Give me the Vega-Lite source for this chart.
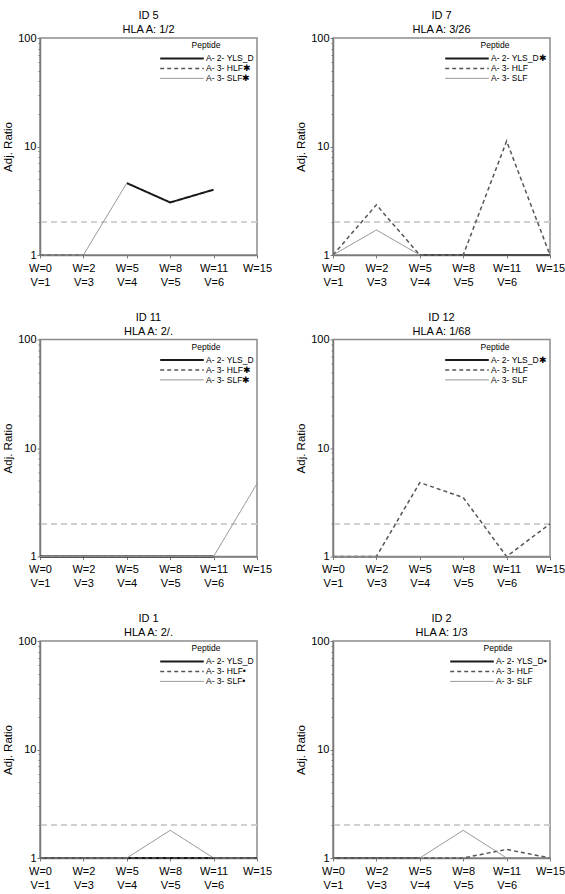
{
  "$schema": "https://vega.github.io/schema/vega-lite/v6.json",
  "background": "white",
  "padding": {"left": 1, "top": 9, "right": 0, "bottom": 2},
  "config": {
    "font": "Liberation Sans",
    "view": {"stroke": "#8c8c8c", "strokeWidth": 1.5},
    "axis": {"labelFont": "Liberation Sans", "titleFont": "Liberation Sans", "labelFontSize": 11, "titleFontSize": 11.5, "titleFontWeight": "normal", "labelColor": "#000", "titleColor": "#000", "domainColor": "#7a7a7a", "domainWidth": 1.5, "tickColor": "#7a7a7a", "grid": false},
    "legend": {"orient": "top-right", "offset": 3, "padding": 0, "symbolType": "stroke", "symbolSize": 1900, "clipHeight": 9.8, "labelFont": "Liberation Sans", "titleFont": "Liberation Sans", "labelFontSize": 8.5, "titleFontSize": 8.5, "titleFontWeight": "normal", "titleAnchor": "middle", "labelOffset": 1, "rowPadding": 0, "titlePadding": 4, "labelColor": "#000", "titleColor": "#000"},
    "title": {"font": "Liberation Sans", "fontSize": 11, "fontWeight": "normal", "lineHeight": 14, "offset": -3, "color": "#000"}
  },
  "data": {"values": [
    {"id": "ID 5", "visit": "W=5|V=4", "peptide": "A- 2- YLS_D", "ratio": 4.6},
    {"id": "ID 5", "visit": "W=8|V=5", "peptide": "A- 2- YLS_D", "ratio": 3.05},
    {"id": "ID 5", "visit": "W=11|V=6", "peptide": "A- 2- YLS_D", "ratio": 4.0},
    {"id": "ID 5", "visit": "W=0|V=1", "peptide": "A- 3- HLF", "ratio": 1},
    {"id": "ID 5", "visit": "W=2|V=3", "peptide": "A- 3- HLF", "ratio": 1},
    {"id": "ID 5", "visit": "W=0|V=1", "peptide": "A- 3- SLF", "ratio": 1},
    {"id": "ID 5", "visit": "W=2|V=3", "peptide": "A- 3- SLF", "ratio": 1},
    {"id": "ID 5", "visit": "W=5|V=4", "peptide": "A- 3- SLF", "ratio": 4.6},

    {"id": "ID 7", "visit": "W=5|V=4", "peptide": "A- 2- YLS_D", "ratio": 1},
    {"id": "ID 7", "visit": "W=8|V=5", "peptide": "A- 2- YLS_D", "ratio": 1},
    {"id": "ID 7", "visit": "W=11|V=6", "peptide": "A- 2- YLS_D", "ratio": 1},
    {"id": "ID 7", "visit": "W=15", "peptide": "A- 2- YLS_D", "ratio": 1},
    {"id": "ID 7", "visit": "W=0|V=1", "peptide": "A- 3- HLF", "ratio": 1},
    {"id": "ID 7", "visit": "W=2|V=3", "peptide": "A- 3- HLF", "ratio": 2.9},
    {"id": "ID 7", "visit": "W=5|V=4", "peptide": "A- 3- HLF", "ratio": 1},
    {"id": "ID 7", "visit": "W=8|V=5", "peptide": "A- 3- HLF", "ratio": 1},
    {"id": "ID 7", "visit": "W=11|V=6", "peptide": "A- 3- HLF", "ratio": 11.2},
    {"id": "ID 7", "visit": "W=15", "peptide": "A- 3- HLF", "ratio": 1},
    {"id": "ID 7", "visit": "W=0|V=1", "peptide": "A- 3- SLF", "ratio": 1},
    {"id": "ID 7", "visit": "W=2|V=3", "peptide": "A- 3- SLF", "ratio": 1.7},
    {"id": "ID 7", "visit": "W=5|V=4", "peptide": "A- 3- SLF", "ratio": 1},
    {"id": "ID 7", "visit": "W=8|V=5", "peptide": "A- 3- SLF", "ratio": 1},
    {"id": "ID 7", "visit": "W=11|V=6", "peptide": "A- 3- SLF", "ratio": 1},
    {"id": "ID 7", "visit": "W=15", "peptide": "A- 3- SLF", "ratio": 1},

    {"id": "ID 11", "visit": "W=0|V=1", "peptide": "A- 2- YLS_D", "ratio": 1},
    {"id": "ID 11", "visit": "W=2|V=3", "peptide": "A- 2- YLS_D", "ratio": 1},
    {"id": "ID 11", "visit": "W=5|V=4", "peptide": "A- 2- YLS_D", "ratio": 1},
    {"id": "ID 11", "visit": "W=8|V=5", "peptide": "A- 2- YLS_D", "ratio": 1},
    {"id": "ID 11", "visit": "W=11|V=6", "peptide": "A- 2- YLS_D", "ratio": 1},
    {"id": "ID 11", "visit": "W=0|V=1", "peptide": "A- 3- HLF", "ratio": 1},
    {"id": "ID 11", "visit": "W=2|V=3", "peptide": "A- 3- HLF", "ratio": 1},
    {"id": "ID 11", "visit": "W=5|V=4", "peptide": "A- 3- HLF", "ratio": 1},
    {"id": "ID 11", "visit": "W=8|V=5", "peptide": "A- 3- HLF", "ratio": 1},
    {"id": "ID 11", "visit": "W=11|V=6", "peptide": "A- 3- HLF", "ratio": 1},
    {"id": "ID 11", "visit": "W=0|V=1", "peptide": "A- 3- SLF", "ratio": 1},
    {"id": "ID 11", "visit": "W=2|V=3", "peptide": "A- 3- SLF", "ratio": 1},
    {"id": "ID 11", "visit": "W=5|V=4", "peptide": "A- 3- SLF", "ratio": 1},
    {"id": "ID 11", "visit": "W=8|V=5", "peptide": "A- 3- SLF", "ratio": 1},
    {"id": "ID 11", "visit": "W=11|V=6", "peptide": "A- 3- SLF", "ratio": 1},
    {"id": "ID 11", "visit": "W=15", "peptide": "A- 3- SLF", "ratio": 4.7},

    {"id": "ID 12", "visit": "W=0|V=1", "peptide": "A- 3- HLF", "ratio": 1},
    {"id": "ID 12", "visit": "W=2|V=3", "peptide": "A- 3- HLF", "ratio": 1},
    {"id": "ID 12", "visit": "W=5|V=4", "peptide": "A- 3- HLF", "ratio": 4.8},
    {"id": "ID 12", "visit": "W=8|V=5", "peptide": "A- 3- HLF", "ratio": 3.5},
    {"id": "ID 12", "visit": "W=11|V=6", "peptide": "A- 3- HLF", "ratio": 1},
    {"id": "ID 12", "visit": "W=15", "peptide": "A- 3- HLF", "ratio": 2.0},
    {"id": "ID 12", "visit": "W=0|V=1", "peptide": "A- 3- SLF", "ratio": 1},
    {"id": "ID 12", "visit": "W=2|V=3", "peptide": "A- 3- SLF", "ratio": 1},
    {"id": "ID 12", "visit": "W=5|V=4", "peptide": "A- 3- SLF", "ratio": 1},
    {"id": "ID 12", "visit": "W=8|V=5", "peptide": "A- 3- SLF", "ratio": 1},
    {"id": "ID 12", "visit": "W=11|V=6", "peptide": "A- 3- SLF", "ratio": 1},
    {"id": "ID 12", "visit": "W=15", "peptide": "A- 3- SLF", "ratio": 1},

    {"id": "ID 1", "visit": "W=0|V=1", "peptide": "A- 2- YLS_D", "ratio": 1},
    {"id": "ID 1", "visit": "W=2|V=3", "peptide": "A- 2- YLS_D", "ratio": 1},
    {"id": "ID 1", "visit": "W=5|V=4", "peptide": "A- 2- YLS_D", "ratio": 1},
    {"id": "ID 1", "visit": "W=8|V=5", "peptide": "A- 2- YLS_D", "ratio": 1},
    {"id": "ID 1", "visit": "W=11|V=6", "peptide": "A- 2- YLS_D", "ratio": 1},
    {"id": "ID 1", "visit": "W=15", "peptide": "A- 2- YLS_D", "ratio": 1},
    {"id": "ID 1", "visit": "W=0|V=1", "peptide": "A- 3- HLF", "ratio": 1},
    {"id": "ID 1", "visit": "W=2|V=3", "peptide": "A- 3- HLF", "ratio": 1},
    {"id": "ID 1", "visit": "W=5|V=4", "peptide": "A- 3- HLF", "ratio": 1},
    {"id": "ID 1", "visit": "W=8|V=5", "peptide": "A- 3- HLF", "ratio": 1},
    {"id": "ID 1", "visit": "W=11|V=6", "peptide": "A- 3- HLF", "ratio": 1},
    {"id": "ID 1", "visit": "W=15", "peptide": "A- 3- HLF", "ratio": 1},
    {"id": "ID 1", "visit": "W=0|V=1", "peptide": "A- 3- SLF", "ratio": 1},
    {"id": "ID 1", "visit": "W=2|V=3", "peptide": "A- 3- SLF", "ratio": 1},
    {"id": "ID 1", "visit": "W=5|V=4", "peptide": "A- 3- SLF", "ratio": 1},
    {"id": "ID 1", "visit": "W=8|V=5", "peptide": "A- 3- SLF", "ratio": 1.8},
    {"id": "ID 1", "visit": "W=11|V=6", "peptide": "A- 3- SLF", "ratio": 1},
    {"id": "ID 1", "visit": "W=15", "peptide": "A- 3- SLF", "ratio": 1},

    {"id": "ID 2", "visit": "W=0|V=1", "peptide": "A- 2- YLS_D", "ratio": 1},
    {"id": "ID 2", "visit": "W=2|V=3", "peptide": "A- 2- YLS_D", "ratio": 1},
    {"id": "ID 2", "visit": "W=5|V=4", "peptide": "A- 2- YLS_D", "ratio": 1},
    {"id": "ID 2", "visit": "W=0|V=1", "peptide": "A- 3- HLF", "ratio": 1},
    {"id": "ID 2", "visit": "W=2|V=3", "peptide": "A- 3- HLF", "ratio": 1},
    {"id": "ID 2", "visit": "W=5|V=4", "peptide": "A- 3- HLF", "ratio": 1},
    {"id": "ID 2", "visit": "W=8|V=5", "peptide": "A- 3- HLF", "ratio": 1},
    {"id": "ID 2", "visit": "W=11|V=6", "peptide": "A- 3- HLF", "ratio": 1.2},
    {"id": "ID 2", "visit": "W=15", "peptide": "A- 3- HLF", "ratio": 1},
    {"id": "ID 2", "visit": "W=0|V=1", "peptide": "A- 3- SLF", "ratio": 1},
    {"id": "ID 2", "visit": "W=2|V=3", "peptide": "A- 3- SLF", "ratio": 1},
    {"id": "ID 2", "visit": "W=5|V=4", "peptide": "A- 3- SLF", "ratio": 1},
    {"id": "ID 2", "visit": "W=8|V=5", "peptide": "A- 3- SLF", "ratio": 1.8},
    {"id": "ID 2", "visit": "W=11|V=6", "peptide": "A- 3- SLF", "ratio": 1},
    {"id": "ID 2", "visit": "W=15", "peptide": "A- 3- SLF", "ratio": 1}
  ]},
  "spacing": 22.5,
  "resolve": {"scale": {"color": "independent", "strokeDash": "independent", "strokeWidth": "independent"}, "legend": {"color": "independent", "strokeDash": "independent", "strokeWidth": "independent"}},
  "vconcat": [
    {"hconcat": [
      {"title": {"text": ["ID 5", "HLA A: 1/2"]}, "width": 217, "height": 217,
       "transform": [{"filter": "datum.id == 'ID 5'"}],
       "layer": [
        {"mark": {"type": "rule", "color": "#cfcfcf", "strokeDash": [6, 4], "strokeWidth": 1}, "encoding": {"y": {"datum": 2, "type": "quantitative"}}},
        {"mark": {"type": "line"}, "encoding": {
          "x": {"field": "visit", "type": "ordinal", "scale": {"type": "point", "padding": 0, "domain": ["W=0|V=1", "W=2|V=3", "W=5|V=4", "W=8|V=5", "W=11|V=6", "W=15"]}, "axis": {"title": null, "labelAngle": 0, "labelExpr": "split(datum.label, '|')", "labelLineHeight": 14, "labelBaseline": "top", "tickSize": 3, "labelPadding": 4}},
          "y": {"field": "ratio", "type": "quantitative", "scale": {"type": "log", "domain": [1, 100]}, "axis": {"title": "Adj. Ratio", "values": [1, 2, 3, 4, 5, 6, 7, 8, 9, 10, 20, 30, 40, 50, 60, 70, 80, 90, 100], "labelExpr": "datum.value == 1 || datum.value == 10 || datum.value == 100 ? datum.label : ''", "tickSize": {"condition": {"test": "datum.value == 1 || datum.value == 10 || datum.value == 100", "value": 3}, "value": 2}, "labelPadding": 1, "titlePadding": 4}},
          "color": {"field": "peptide", "type": "nominal", "title": "Peptide", "scale": {"domain": ["A- 2- YLS_D", "A- 3- HLF", "A- 3- SLF"], "range": ["#1a1a1a", "#555555", "#8a8a8a"]}, "legend": {"labelExpr": "datum.label + (datum.label != 'A- 2- YLS_D' ? '✱' : '')"}},
          "strokeDash": {"field": "peptide", "type": "nominal", "title": "Peptide", "scale": {"domain": ["A- 2- YLS_D", "A- 3- HLF", "A- 3- SLF"], "range": [[1, 0], [4, 3], [1, 0]]}, "legend": {"labelExpr": "datum.label + (datum.label != 'A- 2- YLS_D' ? '✱' : '')"}},
          "strokeWidth": {"field": "peptide", "type": "ordinal", "title": "Peptide", "scale": {"domain": ["A- 2- YLS_D", "A- 3- HLF", "A- 3- SLF"], "range": [2, 1, 1]}, "legend": {"labelExpr": "datum.label + (datum.label != 'A- 2- YLS_D' ? '✱' : '')"}}
        }}
       ]},
      {"title": {"text": ["ID 7", "HLA A: 3/26"]}, "width": 217, "height": 217,
       "transform": [{"filter": "datum.id == 'ID 7'"}],
       "layer": [
        {"mark": {"type": "rule", "color": "#cfcfcf", "strokeDash": [6, 4], "strokeWidth": 1}, "encoding": {"y": {"datum": 2, "type": "quantitative"}}},
        {"mark": {"type": "line"}, "encoding": {
          "x": {"field": "visit", "type": "ordinal", "scale": {"type": "point", "padding": 0, "domain": ["W=0|V=1", "W=2|V=3", "W=5|V=4", "W=8|V=5", "W=11|V=6", "W=15"]}, "axis": {"title": null, "labelAngle": 0, "labelExpr": "split(datum.label, '|')", "labelLineHeight": 14, "labelBaseline": "top", "tickSize": 3, "labelPadding": 4}},
          "y": {"field": "ratio", "type": "quantitative", "scale": {"type": "log", "domain": [1, 100]}, "axis": {"title": "Adj. Ratio", "values": [1, 2, 3, 4, 5, 6, 7, 8, 9, 10, 20, 30, 40, 50, 60, 70, 80, 90, 100], "labelExpr": "datum.value == 1 || datum.value == 10 || datum.value == 100 ? datum.label : ''", "tickSize": {"condition": {"test": "datum.value == 1 || datum.value == 10 || datum.value == 100", "value": 3}, "value": 2}, "labelPadding": 1, "titlePadding": 4}},
          "color": {"field": "peptide", "type": "nominal", "title": "Peptide", "scale": {"domain": ["A- 2- YLS_D", "A- 3- HLF", "A- 3- SLF"], "range": ["#1a1a1a", "#555555", "#8a8a8a"]}, "legend": {"labelExpr": "datum.label + (datum.label == 'A- 2- YLS_D' ? '✱' : '')"}},
          "strokeDash": {"field": "peptide", "type": "nominal", "title": "Peptide", "scale": {"domain": ["A- 2- YLS_D", "A- 3- HLF", "A- 3- SLF"], "range": [[1, 0], [4, 3], [1, 0]]}, "legend": {"labelExpr": "datum.label + (datum.label == 'A- 2- YLS_D' ? '✱' : '')"}},
          "strokeWidth": {"field": "peptide", "type": "ordinal", "title": "Peptide", "scale": {"domain": ["A- 2- YLS_D", "A- 3- HLF", "A- 3- SLF"], "range": [2, 1, 1]}, "legend": {"labelExpr": "datum.label + (datum.label == 'A- 2- YLS_D' ? '✱' : '')"}}
        }}
       ]}
    ], "spacing": 76, "bounds": "flush",
    "resolve": {"scale": {"color": "independent", "strokeDash": "independent", "strokeWidth": "independent"}, "legend": {"color": "independent", "strokeDash": "independent", "strokeWidth": "independent"}}},
    {"hconcat": [
      {"title": {"text": ["ID 11", "HLA A: 2/."]}, "width": 217, "height": 217,
       "transform": [{"filter": "datum.id == 'ID 11'"}],
       "layer": [
        {"mark": {"type": "rule", "color": "#cfcfcf", "strokeDash": [6, 4], "strokeWidth": 1}, "encoding": {"y": {"datum": 2, "type": "quantitative"}}},
        {"mark": {"type": "line"}, "encoding": {
          "x": {"field": "visit", "type": "ordinal", "scale": {"type": "point", "padding": 0, "domain": ["W=0|V=1", "W=2|V=3", "W=5|V=4", "W=8|V=5", "W=11|V=6", "W=15"]}, "axis": {"title": null, "labelAngle": 0, "labelExpr": "split(datum.label, '|')", "labelLineHeight": 14, "labelBaseline": "top", "tickSize": 3, "labelPadding": 4}},
          "y": {"field": "ratio", "type": "quantitative", "scale": {"type": "log", "domain": [1, 100]}, "axis": {"title": "Adj. Ratio", "values": [1, 2, 3, 4, 5, 6, 7, 8, 9, 10, 20, 30, 40, 50, 60, 70, 80, 90, 100], "labelExpr": "datum.value == 1 || datum.value == 10 || datum.value == 100 ? datum.label : ''", "tickSize": {"condition": {"test": "datum.value == 1 || datum.value == 10 || datum.value == 100", "value": 3}, "value": 2}, "labelPadding": 1, "titlePadding": 4}},
          "color": {"field": "peptide", "type": "nominal", "title": "Peptide", "scale": {"domain": ["A- 2- YLS_D", "A- 3- HLF", "A- 3- SLF"], "range": ["#1a1a1a", "#555555", "#8a8a8a"]}, "legend": {"labelExpr": "datum.label + (datum.label != 'A- 2- YLS_D' ? '✱' : '')"}},
          "strokeDash": {"field": "peptide", "type": "nominal", "title": "Peptide", "scale": {"domain": ["A- 2- YLS_D", "A- 3- HLF", "A- 3- SLF"], "range": [[1, 0], [4, 3], [1, 0]]}, "legend": {"labelExpr": "datum.label + (datum.label != 'A- 2- YLS_D' ? '✱' : '')"}},
          "strokeWidth": {"field": "peptide", "type": "ordinal", "title": "Peptide", "scale": {"domain": ["A- 2- YLS_D", "A- 3- HLF", "A- 3- SLF"], "range": [2, 1, 1]}, "legend": {"labelExpr": "datum.label + (datum.label != 'A- 2- YLS_D' ? '✱' : '')"}}
        }}
       ]},
      {"title": {"text": ["ID 12", "HLA A: 1/68"]}, "width": 217, "height": 217,
       "transform": [{"filter": "datum.id == 'ID 12'"}],
       "layer": [
        {"mark": {"type": "rule", "color": "#cfcfcf", "strokeDash": [6, 4], "strokeWidth": 1}, "encoding": {"y": {"datum": 2, "type": "quantitative"}}},
        {"mark": {"type": "line"}, "encoding": {
          "x": {"field": "visit", "type": "ordinal", "scale": {"type": "point", "padding": 0, "domain": ["W=0|V=1", "W=2|V=3", "W=5|V=4", "W=8|V=5", "W=11|V=6", "W=15"]}, "axis": {"title": null, "labelAngle": 0, "labelExpr": "split(datum.label, '|')", "labelLineHeight": 14, "labelBaseline": "top", "tickSize": 3, "labelPadding": 4}},
          "y": {"field": "ratio", "type": "quantitative", "scale": {"type": "log", "domain": [1, 100]}, "axis": {"title": "Adj. Ratio", "values": [1, 2, 3, 4, 5, 6, 7, 8, 9, 10, 20, 30, 40, 50, 60, 70, 80, 90, 100], "labelExpr": "datum.value == 1 || datum.value == 10 || datum.value == 100 ? datum.label : ''", "tickSize": {"condition": {"test": "datum.value == 1 || datum.value == 10 || datum.value == 100", "value": 3}, "value": 2}, "labelPadding": 1, "titlePadding": 4}},
          "color": {"field": "peptide", "type": "nominal", "title": "Peptide", "scale": {"domain": ["A- 2- YLS_D", "A- 3- HLF", "A- 3- SLF"], "range": ["#1a1a1a", "#555555", "#8a8a8a"]}, "legend": {"labelExpr": "datum.label + (datum.label == 'A- 2- YLS_D' ? '✱' : '')"}},
          "strokeDash": {"field": "peptide", "type": "nominal", "title": "Peptide", "scale": {"domain": ["A- 2- YLS_D", "A- 3- HLF", "A- 3- SLF"], "range": [[1, 0], [4, 3], [1, 0]]}, "legend": {"labelExpr": "datum.label + (datum.label == 'A- 2- YLS_D' ? '✱' : '')"}},
          "strokeWidth": {"field": "peptide", "type": "ordinal", "title": "Peptide", "scale": {"domain": ["A- 2- YLS_D", "A- 3- HLF", "A- 3- SLF"], "range": [2, 1, 1]}, "legend": {"labelExpr": "datum.label + (datum.label == 'A- 2- YLS_D' ? '✱' : '')"}}
        }}
       ]}
    ], "spacing": 76, "bounds": "flush",
    "resolve": {"scale": {"color": "independent", "strokeDash": "independent", "strokeWidth": "independent"}, "legend": {"color": "independent", "strokeDash": "independent", "strokeWidth": "independent"}}},
    {"hconcat": [
      {"title": {"text": ["ID 1", "HLA A: 2/."]}, "width": 217, "height": 217,
       "transform": [{"filter": "datum.id == 'ID 1'"}],
       "layer": [
        {"mark": {"type": "rule", "color": "#cfcfcf", "strokeDash": [6, 4], "strokeWidth": 1}, "encoding": {"y": {"datum": 2, "type": "quantitative"}}},
        {"mark": {"type": "line"}, "encoding": {
          "x": {"field": "visit", "type": "ordinal", "scale": {"type": "point", "padding": 0, "domain": ["W=0|V=1", "W=2|V=3", "W=5|V=4", "W=8|V=5", "W=11|V=6", "W=15"]}, "axis": {"title": null, "labelAngle": 0, "labelExpr": "split(datum.label, '|')", "labelLineHeight": 14, "labelBaseline": "top", "tickSize": 3, "labelPadding": 4}},
          "y": {"field": "ratio", "type": "quantitative", "scale": {"type": "log", "domain": [1, 100]}, "axis": {"title": "Adj. Ratio", "values": [1, 2, 3, 4, 5, 6, 7, 8, 9, 10, 20, 30, 40, 50, 60, 70, 80, 90, 100], "labelExpr": "datum.value == 1 || datum.value == 10 || datum.value == 100 ? datum.label : ''", "tickSize": {"condition": {"test": "datum.value == 1 || datum.value == 10 || datum.value == 100", "value": 3}, "value": 2}, "labelPadding": 1, "titlePadding": 4}},
          "color": {"field": "peptide", "type": "nominal", "title": "Peptide", "scale": {"domain": ["A- 2- YLS_D", "A- 3- HLF", "A- 3- SLF"], "range": ["#1a1a1a", "#555555", "#8a8a8a"]}, "legend": {"labelExpr": "datum.label + (datum.label != 'A- 2- YLS_D' ? '•' : '')"}},
          "strokeDash": {"field": "peptide", "type": "nominal", "title": "Peptide", "scale": {"domain": ["A- 2- YLS_D", "A- 3- HLF", "A- 3- SLF"], "range": [[1, 0], [4, 3], [1, 0]]}, "legend": {"labelExpr": "datum.label + (datum.label != 'A- 2- YLS_D' ? '•' : '')"}},
          "strokeWidth": {"field": "peptide", "type": "ordinal", "title": "Peptide", "scale": {"domain": ["A- 2- YLS_D", "A- 3- HLF", "A- 3- SLF"], "range": [2, 1, 1]}, "legend": {"labelExpr": "datum.label + (datum.label != 'A- 2- YLS_D' ? '•' : '')"}}
        }}
       ]},
      {"title": {"text": ["ID 2", "HLA A: 1/3"]}, "width": 217, "height": 217,
       "transform": [{"filter": "datum.id == 'ID 2'"}],
       "layer": [
        {"mark": {"type": "rule", "color": "#cfcfcf", "strokeDash": [6, 4], "strokeWidth": 1}, "encoding": {"y": {"datum": 2, "type": "quantitative"}}},
        {"mark": {"type": "line"}, "encoding": {
          "x": {"field": "visit", "type": "ordinal", "scale": {"type": "point", "padding": 0, "domain": ["W=0|V=1", "W=2|V=3", "W=5|V=4", "W=8|V=5", "W=11|V=6", "W=15"]}, "axis": {"title": null, "labelAngle": 0, "labelExpr": "split(datum.label, '|')", "labelLineHeight": 14, "labelBaseline": "top", "tickSize": 3, "labelPadding": 4}},
          "y": {"field": "ratio", "type": "quantitative", "scale": {"type": "log", "domain": [1, 100]}, "axis": {"title": "Adj. Ratio", "values": [1, 2, 3, 4, 5, 6, 7, 8, 9, 10, 20, 30, 40, 50, 60, 70, 80, 90, 100], "labelExpr": "datum.value == 1 || datum.value == 10 || datum.value == 100 ? datum.label : ''", "tickSize": {"condition": {"test": "datum.value == 1 || datum.value == 10 || datum.value == 100", "value": 3}, "value": 2}, "labelPadding": 1, "titlePadding": 4}},
          "color": {"field": "peptide", "type": "nominal", "title": "Peptide", "scale": {"domain": ["A- 2- YLS_D", "A- 3- HLF", "A- 3- SLF"], "range": ["#1a1a1a", "#555555", "#8a8a8a"]}, "legend": {"labelExpr": "datum.label + (datum.label == 'A- 2- YLS_D' ? '▪' : '')"}},
          "strokeDash": {"field": "peptide", "type": "nominal", "title": "Peptide", "scale": {"domain": ["A- 2- YLS_D", "A- 3- HLF", "A- 3- SLF"], "range": [[1, 0], [4, 3], [1, 0]]}, "legend": {"labelExpr": "datum.label + (datum.label == 'A- 2- YLS_D' ? '▪' : '')"}},
          "strokeWidth": {"field": "peptide", "type": "ordinal", "title": "Peptide", "scale": {"domain": ["A- 2- YLS_D", "A- 3- HLF", "A- 3- SLF"], "range": [2, 1, 1]}, "legend": {"labelExpr": "datum.label + (datum.label == 'A- 2- YLS_D' ? '▪' : '')"}}
        }}
       ]}
    ], "spacing": 76, "bounds": "flush",
    "resolve": {"scale": {"color": "independent", "strokeDash": "independent", "strokeWidth": "independent"}, "legend": {"color": "independent", "strokeDash": "independent", "strokeWidth": "independent"}}}
  ]
}
